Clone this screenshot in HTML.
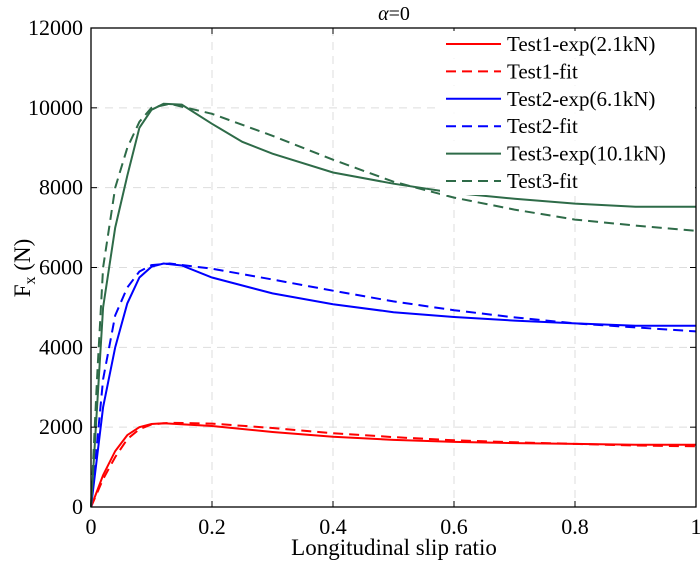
<!DOCTYPE html>
<html><head><meta charset="utf-8"><style>
body{margin:0;background:#fff;}
svg text{font-family:"Liberation Serif",serif;fill:#000;}
</style></head><body>
<svg id="chart" width="700" height="565" xmlns="http://www.w3.org/2000/svg">
<g id="grid"></g>
<g id="series"></g>
<g id="axes"></g>
<text x="394" y="20" font-size="20" text-anchor="middle"><tspan font-style="italic">α</tspan>=0</text>
<text x="394" y="555" font-size="23" text-anchor="middle">Longitudinal slip ratio</text>
<text transform="translate(30,268) rotate(-90)" font-size="23" text-anchor="middle">F<tspan font-size="16" dy="5">x</tspan><tspan dy="-5"> (N)</tspan></text>
<g id="legend"></g>
</svg>
<script>
const xTicks=[0,0.2,0.4,0.6,0.8,1];
const xTickLabels=["0","0.2","0.4","0.6","0.8","1"];
const yTicks=[0,2000,4000,6000,8000,10000,12000];
const yTickLabels=["0","2000","4000","6000","8000","10000","12000"];
const seriesNames=["Test1-exp(2.1kN)","Test1-fit","Test2-exp(6.1kN)","Test2-fit","Test3-exp(10.1kN)","Test3-fit"];
const t1ExpX=[0,0.02,0.04,0.06,0.08,0.1,0.12,0.2,0.3,0.4,0.5,0.6,0.7,0.8,0.9,1];
const t1ExpY=[0,800,1400,1800,2000,2080,2100,2030,1880,1760,1680,1630,1600,1580,1560,1560];
const t1FitX=[0,0.02,0.04,0.06,0.08,0.1,0.13,0.2,0.3,0.4,0.5,0.6,0.7,0.8,0.9,1];
const t1FitY=[0,700,1250,1700,1950,2070,2110,2090,1980,1850,1750,1670,1620,1580,1540,1520];
const t2ExpX=[0,0.02,0.04,0.06,0.08,0.1,0.12,0.15,0.2,0.3,0.4,0.5,0.6,0.7,0.8,0.9,1];
const t2ExpY=[0,2500,4000,5100,5750,6020,6100,6050,5750,5350,5080,4880,4760,4670,4600,4540,4540];
const t2FitX=[0,0.02,0.04,0.06,0.08,0.1,0.13,0.2,0.3,0.4,0.5,0.6,0.7,0.8,0.9,1];
const t2FitY=[0,3200,4800,5500,5900,6060,6100,5970,5700,5420,5150,4930,4750,4600,4500,4400];
const t3ExpX=[0,0.02,0.04,0.06,0.08,0.1,0.12,0.15,0.2,0.25,0.3,0.4,0.5,0.6,0.7,0.8,0.9,1];
const t3ExpY=[0,5000,7000,8300,9500,9950,10100,10080,9600,9150,8850,8380,8100,7870,7720,7600,7520,7520];
const t3FitX=[0,0.01,0.02,0.04,0.06,0.08,0.1,0.13,0.2,0.3,0.4,0.5,0.6,0.7,0.8,0.9,1];
const t3FitY=[0,3200,6000,8000,9000,9650,10000,10100,9850,9300,8700,8150,7750,7450,7200,7050,6920];

const L=91,R=696,T=28,B=507;
const sx=v=>L+v*(R-L);
const sy=v=>B-v/12000*(B-T);
const NS="http://www.w3.org/2000/svg";
function mk(tag,parent,attrs){const e=document.createElementNS(NS,tag);for(const k in attrs)e.setAttribute(k,attrs[k]);parent.appendChild(e);return e;}
const grid=document.getElementById('grid'),axes=document.getElementById('axes'),ser=document.getElementById('series'),leg=document.getElementById('legend');
xTicks.forEach((v,i)=>{
  if(i>0&&i<xTicks.length-1){const g=mk('line',grid,{x1:sx(v),x2:sx(v),y1:T,y2:B,stroke:'#ddd','stroke-dasharray':'8,6','stroke-width':1});
  
  }
  mk('line',axes,{x1:sx(v),x2:sx(v),y1:B,y2:B-6,stroke:'#000'});
  mk('line',axes,{x1:sx(v),x2:sx(v),y1:T,y2:T+6,stroke:'#000'});
  const t=mk('text',axes,{x:sx(v),y:B+27,'font-size':22,'text-anchor':'middle'});t.textContent=xTickLabels[i];
  
  
});
yTicks.forEach((v,i)=>{
  if(i>0&&i<yTicks.length-1){const g=mk('line',grid,{x1:L,x2:R,y1:sy(v),y2:sy(v),stroke:'#ddd','stroke-dasharray':'8,6','stroke-width':1});
  
  }
  mk('line',axes,{x1:L,x2:L+6,y1:sy(v),y2:sy(v),stroke:'#000'});
  mk('line',axes,{x1:R,x2:R-6,y1:sy(v),y2:sy(v),stroke:'#000'});
  const t=mk('text',axes,{x:L-8,y:sy(v)+7,'font-size':22,'text-anchor':'end'});t.textContent=yTickLabels[i];
  
  
});
mk('rect',axes,{x:L,y:T,width:R-L,height:B-T,fill:'none',stroke:'#000','stroke-width':1.3});
const defs=[[t1ExpX,t1ExpY,'#ff0000',false],[t1FitX,t1FitY,'#ff0000',true],[t2ExpX,t2ExpY,'#0000ff',false],[t2FitX,t2FitY,'#0000ff',true],[t3ExpX,t3ExpY,'#2e6b48',false],[t3FitX,t3FitY,'#2e6b48',true]];
const names=['test1-exp-line','test1-fit-line','test2-exp-line','test2-fit-line','test3-exp-line','test3-fit-line'];
defs.forEach((d,i)=>{
  const pts=d[0].map((x,j)=>sx(x).toFixed(1)+','+sy(d[1][j]).toFixed(1)).join(' ');
  const p=mk('polyline',ser,{points:pts,fill:'none',stroke:d[2],'stroke-width':2});
  if(d[3])p.setAttribute('stroke-dasharray','10,6');
  
  
  const ly=44+i*27.4;
  mk('rect',leg,{x:440,y:ly-13,width:255,height:27,fill:'#fff'});
  const l=mk('line',leg,{x1:446,x2:501,y1:ly,y2:ly,stroke:d[2],'stroke-width':2});
  if(d[3])l.setAttribute('stroke-dasharray','10,6');
  
  
  const t=mk('text',leg,{x:507,y:ly+7,'font-size':21});t.textContent=seriesNames[i];
  
  
});
</script>
</body></html>
